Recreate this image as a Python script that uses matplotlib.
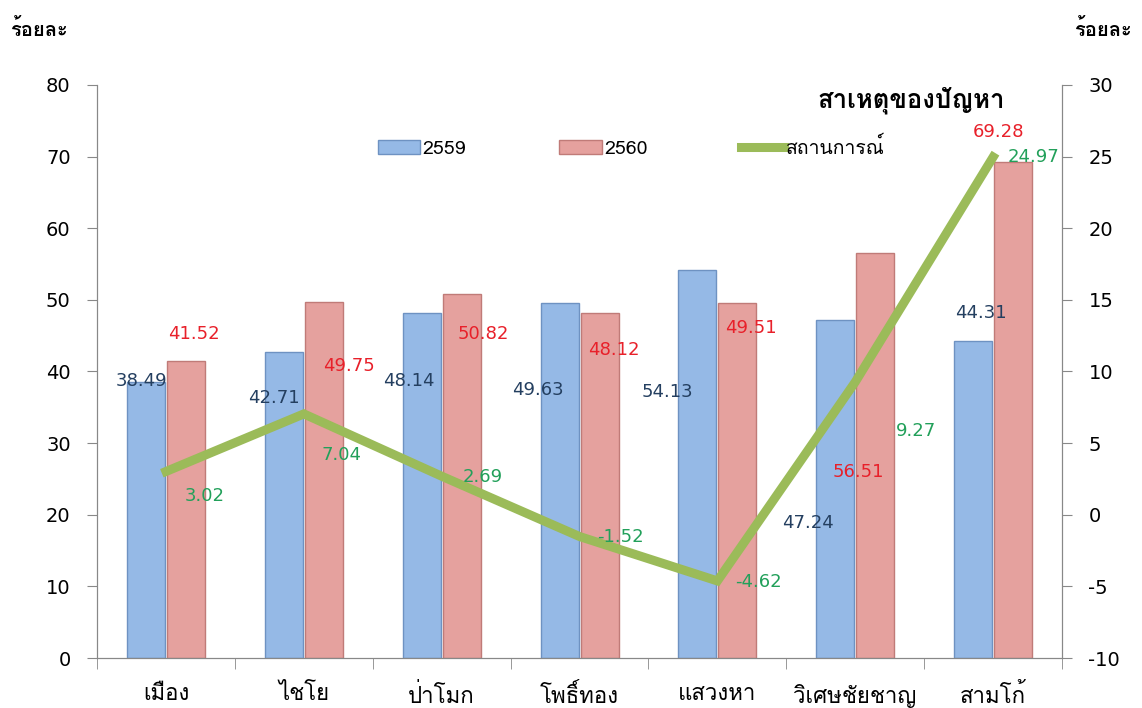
import numpy as np
import matplotlib.pyplot as plt
from matplotlib import font_manager
from matplotlib.ft2font import FT2Font

# find a font that can draw Thai
def thai_font():
    for f in font_manager.fontManager.ttflist:
        try:
            if 0x0E01 in FT2Font(f.fname).get_charmap():
                return f.name
        except Exception:
            pass
    return 'DejaVu Sans'

TH = thai_font()
plt.rcParams['font.family'] = [TH, 'DejaVu Sans']
plt.rcParams['axes.unicode_minus'] = False

districts = ['เมือง', 'ไชโย', 'ป่าโมก', 'โพธิ์ทอง', 'แสวงหา', 'วิเศษชัยชาญ', 'สามโก้']
y2559 = [38.49, 42.71, 48.14, 49.63, 54.13, 47.24, 44.31]
y2560 = [41.52, 49.75, 50.82, 48.12, 49.51, 56.51, 69.28]
situation = [3.02, 7.04, 2.69, -1.52, -4.62, 9.27, 24.97]

# label placement (x offset from group centre, height on left axis)
lab59 = [(-0.18, 38.7), (-0.22, 36.3), (-0.24, 38.7), (-0.30, 37.4), (-0.36, 37.2), (-0.34, 18.9), (-0.09, 48.2)]
lab60 = [(0.20, 45.3), (0.33, 40.8), (0.30, 45.3), (0.25, 43.0), (0.24, 46.1), (0.02, 26.0), (0.04, 73.5)]
labsit = [(0.28, 22.6), (0.27, 28.4), (0.30, 25.3), (0.30, 16.9), (0.30, 10.6), (0.44, 31.7), (0.29, 70.0)]

x = np.arange(len(districts))
w = 0.275

fig = plt.figure(figsize=(11.42, 7.08), dpi=100)
ax = fig.add_axes([0.085, 0.0706, 0.845, 0.8094])
ax2 = ax.twinx()

b1 = ax.bar(x - 0.145, y2559, w, color='#95b9e6', edgecolor='#6e92c2', linewidth=1, label='2559', zorder=2)
b2 = ax.bar(x + 0.145, y2560, w, color='#e5a19e', edgecolor='#c07b78', linewidth=1, label='2560', zorder=2)
ln, = ax2.plot(x, situation, color='#9bbb59', lw=6.5, solid_joinstyle='miter', label='สถานการณ์', zorder=3)

ax.set_xlim(-0.5, len(districts) - 0.5)
ax.set_ylim(0, 80)
ax2.set_ylim(-10, 30)
ax.set_yticks(np.arange(0, 81, 10))
ax2.set_yticks(np.arange(-10, 31, 5))
ax.set_xticks(x)
ax.set_xticklabels(districts, fontsize=16, family=[TH, 'DejaVu Sans'])
ax.set_xticks(np.arange(-0.5, len(districts), 1), minor=True)
ax.tick_params(axis='x', which='major', length=0, pad=19)
ax.tick_params(axis='x', which='minor', length=8, color='#888888', direction='out')
ax.tick_params(axis='y', length=7, color='#888888', labelsize=14, pad=12)
ax2.tick_params(axis='y', length=7, color='#888888', labelsize=14, pad=12)
for a in (ax, ax2):
    a.spines['top'].set_visible(False)
    for s in ('left', 'right', 'bottom'):
        a.spines[s].set_color('#888888')
ax.set_zorder(ax2.get_zorder() - 1)
ax2.patch.set_visible(False)
for t in ax.get_yticklabels() + ax2.get_yticklabels():
    t.set_family('DejaVu Sans')

for i in range(len(x)):
    ax.text(x[i] + lab59[i][0], lab59[i][1], f'{y2559[i]:.2f}', color='#243f60',
            fontsize=13, ha='center', va='center', family='DejaVu Sans', zorder=5, clip_on=False)
    ax.text(x[i] + lab60[i][0], lab60[i][1], f'{y2560[i]:.2f}', color='#e8202a',
            fontsize=13, ha='center', va='center', family='DejaVu Sans', zorder=5, clip_on=False)
    ax2.text(x[i] + labsit[i][0], (labsit[i][1]) / 2 - 10, f'{situation[i]:.2f}', color='#22a05a',
             fontsize=13, ha='center', va='center', family='DejaVu Sans', zorder=5)

fig.text(0.009, 0.958, 'ร้อยละ', fontsize=14.5, fontweight='bold', ha='left', va='center')
fig.text(0.991, 0.958, 'ร้อยละ', fontsize=14.5, fontweight='bold', ha='right', va='center')
fig.text(0.716, 0.858, 'สาเหตุของปัญหา', fontsize=18.5, fontweight='bold', ha='left', va='center')

fig.legend(handles=[b1, b2, ln], loc='center', bbox_to_anchor=(0.5525, 0.792), ncol=3,
           frameon=False, fontsize=14, handlelength=2.2, handletextpad=0.1, columnspacing=4.8)

fig.savefig('out.png', dpi=100)
